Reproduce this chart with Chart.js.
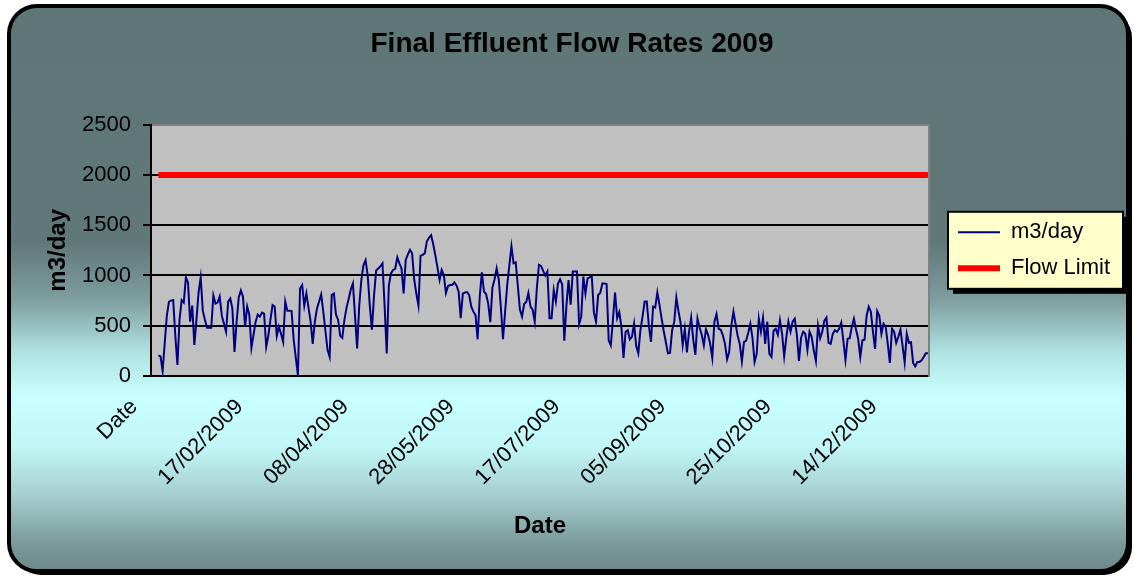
<!DOCTYPE html>
<html><head><meta charset="utf-8">
<script src="https://cdn.jsdelivr.net/npm/chart.js@4.4.1/dist/chart.umd.min.js"></script>
<style>html,body{margin:0;padding:0;background:#fff;}canvas{display:block;}</style>
</head><body>
<canvas id="c" width="1134" height="578"></canvas>
<script>
const chartTitle = "Final Effluent Flow Rates 2009";
const yAxisTitle = "m3/day";
const xAxisTitle = "Date";
const seriesNames = ["m3/day", "Flow Limit"];
const yMin = 0, yMax = 2500, yStep = 500;
const flowLimitValue = 2000;
const flowLimitDates = ["01/01/2009", "31/12/2009"];
const tickEvery = 50;

const headerCategories = ["Date","30/12/2008","31/12/2008"];
const janDates = ["01/01/2009","02/01/2009","03/01/2009","04/01/2009","05/01/2009","06/01/2009","07/01/2009","08/01/2009","09/01/2009","10/01/2009","11/01/2009","12/01/2009","13/01/2009","14/01/2009","15/01/2009","16/01/2009","17/01/2009","18/01/2009","19/01/2009","20/01/2009","21/01/2009","22/01/2009","23/01/2009","24/01/2009","25/01/2009","26/01/2009","27/01/2009","28/01/2009","29/01/2009","30/01/2009","31/01/2009"];
const febDates = ["01/02/2009","02/02/2009","03/02/2009","04/02/2009","05/02/2009","06/02/2009","07/02/2009","08/02/2009","09/02/2009","10/02/2009","11/02/2009","12/02/2009","13/02/2009","14/02/2009","15/02/2009","16/02/2009","17/02/2009","18/02/2009","19/02/2009","20/02/2009","21/02/2009","22/02/2009","23/02/2009","24/02/2009","25/02/2009","26/02/2009","27/02/2009","28/02/2009"];
const marDates = ["01/03/2009","02/03/2009","03/03/2009","04/03/2009","05/03/2009","06/03/2009","07/03/2009","08/03/2009","09/03/2009","10/03/2009","11/03/2009","12/03/2009","13/03/2009","14/03/2009","15/03/2009","16/03/2009","17/03/2009","18/03/2009","19/03/2009","20/03/2009","21/03/2009","22/03/2009","23/03/2009","24/03/2009","25/03/2009","26/03/2009","27/03/2009","28/03/2009","29/03/2009","30/03/2009","31/03/2009"];
const aprDates = ["01/04/2009","02/04/2009","03/04/2009","04/04/2009","05/04/2009","06/04/2009","07/04/2009","08/04/2009","09/04/2009","10/04/2009","11/04/2009","12/04/2009","13/04/2009","14/04/2009","15/04/2009","16/04/2009","17/04/2009","18/04/2009","19/04/2009","20/04/2009","21/04/2009","22/04/2009","23/04/2009","24/04/2009","25/04/2009","26/04/2009","27/04/2009","28/04/2009","29/04/2009","30/04/2009"];
const mayDates = ["01/05/2009","02/05/2009","03/05/2009","04/05/2009","05/05/2009","06/05/2009","07/05/2009","08/05/2009","09/05/2009","10/05/2009","11/05/2009","12/05/2009","13/05/2009","14/05/2009","15/05/2009","16/05/2009","17/05/2009","18/05/2009","19/05/2009","20/05/2009","21/05/2009","22/05/2009","23/05/2009","24/05/2009","25/05/2009","26/05/2009","27/05/2009","28/05/2009","29/05/2009","30/05/2009","31/05/2009"];
const junDates = ["01/06/2009","02/06/2009","03/06/2009","04/06/2009","05/06/2009","06/06/2009","07/06/2009","08/06/2009","09/06/2009","10/06/2009","11/06/2009","12/06/2009","13/06/2009","14/06/2009","15/06/2009","16/06/2009","17/06/2009","18/06/2009","19/06/2009","20/06/2009","21/06/2009","22/06/2009","23/06/2009","24/06/2009","25/06/2009","26/06/2009","27/06/2009","28/06/2009","29/06/2009","30/06/2009"];
const julDates = ["01/07/2009","02/07/2009","03/07/2009","04/07/2009","05/07/2009","06/07/2009","07/07/2009","08/07/2009","09/07/2009","10/07/2009","11/07/2009","12/07/2009","13/07/2009","14/07/2009","15/07/2009","16/07/2009","17/07/2009","18/07/2009","19/07/2009","20/07/2009","21/07/2009","22/07/2009","23/07/2009","24/07/2009","25/07/2009","26/07/2009","27/07/2009","28/07/2009","29/07/2009","30/07/2009","31/07/2009"];
const augDates = ["01/08/2009","02/08/2009","03/08/2009","04/08/2009","05/08/2009","06/08/2009","07/08/2009","08/08/2009","09/08/2009","10/08/2009","11/08/2009","12/08/2009","13/08/2009","14/08/2009","15/08/2009","16/08/2009","17/08/2009","18/08/2009","19/08/2009","20/08/2009","21/08/2009","22/08/2009","23/08/2009","24/08/2009","25/08/2009","26/08/2009","27/08/2009","28/08/2009","29/08/2009","30/08/2009","31/08/2009"];
const sepDates = ["01/09/2009","02/09/2009","03/09/2009","04/09/2009","05/09/2009","06/09/2009","07/09/2009","08/09/2009","09/09/2009","10/09/2009","11/09/2009","12/09/2009","13/09/2009","14/09/2009","15/09/2009","16/09/2009","17/09/2009","18/09/2009","19/09/2009","20/09/2009","21/09/2009","22/09/2009","23/09/2009","24/09/2009","25/09/2009","26/09/2009","27/09/2009","28/09/2009","29/09/2009","30/09/2009"];
const octDates = ["01/10/2009","02/10/2009","03/10/2009","04/10/2009","05/10/2009","06/10/2009","07/10/2009","08/10/2009","09/10/2009","10/10/2009","11/10/2009","12/10/2009","13/10/2009","14/10/2009","15/10/2009","16/10/2009","17/10/2009","18/10/2009","19/10/2009","20/10/2009","21/10/2009","22/10/2009","23/10/2009","24/10/2009","25/10/2009","26/10/2009","27/10/2009","28/10/2009","29/10/2009","30/10/2009","31/10/2009"];
const novDates = ["01/11/2009","02/11/2009","03/11/2009","04/11/2009","05/11/2009","06/11/2009","07/11/2009","08/11/2009","09/11/2009","10/11/2009","11/11/2009","12/11/2009","13/11/2009","14/11/2009","15/11/2009","16/11/2009","17/11/2009","18/11/2009","19/11/2009","20/11/2009","21/11/2009","22/11/2009","23/11/2009","24/11/2009","25/11/2009","26/11/2009","27/11/2009","28/11/2009","29/11/2009","30/11/2009"];
const decDates = ["01/12/2009","02/12/2009","03/12/2009","04/12/2009","05/12/2009","06/12/2009","07/12/2009","08/12/2009","09/12/2009","10/12/2009","11/12/2009","12/12/2009","13/12/2009","14/12/2009","15/12/2009","16/12/2009","17/12/2009","18/12/2009","19/12/2009","20/12/2009","21/12/2009","22/12/2009","23/12/2009","24/12/2009","25/12/2009","26/12/2009","27/12/2009","28/12/2009","29/12/2009","30/12/2009","31/12/2009"];

const headerValues = [null, null, null];
const janFlow = [205,195,50,330,600,740,750,755,400,110,560,755,730,980,930,540,700,310,560,830,980,650,560,480,480,480,800,720,730,790,600];
const febFlow = [520,440,740,770,670,240,540,780,850,790,490,690,610,280,410,540,610,590,630,620,290,400,560,705,690,400,490,420];
const marFlow = [340,740,650,650,645,360,180,5,870,905,700,820,680,540,320,540,670,740,810,640,450,260,190,805,820,610,560,400,380,560,680];
const aprFlow = [765,860,920,600,275,700,955,1100,1150,1000,700,460,800,1050,1070,1090,1120,700,225,900,1020,1055,1065,1180,1120,1070,820,1155,1210,1255];
const mayFlow = [1220,960,820,700,1195,1205,1220,1340,1375,1400,1310,1200,1080,955,1055,1005,825,895,905,905,930,900,840,575,820,830,835,805,690,640,605];
const junFlow = [365,790,1030,840,815,720,535,880,960,1070,960,680,365,640,905,1100,1290,1120,1130,900,660,590,715,735,825,690,660,540,870,1105];
const julFlow = [1095,1045,1000,1040,575,575,855,740,920,960,910,350,700,955,710,1040,1040,1040,515,590,990,820,970,980,990,630,540,805,825,920,920];
const augFlow = [915,355,305,560,830,575,635,490,180,440,455,365,390,520,300,225,455,590,740,740,500,340,690,680,830,710,575,450,340,225,230];
const sepFlow = [455,540,780,645,530,305,465,235,440,580,360,210,570,480,410,305,465,410,320,180,540,615,470,460,405,320,165,240,500,640];
const octFlow = [520,400,320,145,340,350,430,520,380,140,220,570,440,580,320,540,220,190,450,470,410,555,420,195,380,540,440,540,570,410,150];
const novFlow = [380,440,420,260,440,390,255,150,500,375,440,550,580,330,320,420,455,440,470,530,350,160,370,375,490,570,460,370,190,355];
const decFlow = [360,600,690,640,440,270,645,600,420,520,490,320,130,470,440,330,390,460,300,135,420,330,335,130,95,140,140,155,190,225,225];

const categories = [].concat(headerCategories, janDates, febDates, marDates, aprDates, mayDates, junDates, julDates, augDates, sepDates, octDates, novDates, decDates);
const flowValues = [].concat(headerValues, janFlow, febFlow, marFlow, aprFlow, mayFlow, junFlow, julFlow, augFlow, sepFlow, octFlow, novFlow, decFlow);
const flowLimitPoints = flowLimitDates.map(d => ({x: d, y: flowLimitValue}));

const FONT = "'Liberation Sans', Arial, Helvetica, sans-serif";

function roundRectPath(ctx, x, y, w, h, r) {
  ctx.beginPath();
  ctx.moveTo(x + r, y);
  ctx.lineTo(x + w - r, y);
  ctx.arcTo(x + w, y, x + w, y + r, r);
  ctx.lineTo(x + w, y + h - r);
  ctx.arcTo(x + w, y + h, x + w - r, y + h, r);
  ctx.lineTo(x + r, y + h);
  ctx.arcTo(x, y + h, x, y + h - r, r);
  ctx.lineTo(x, y + r);
  ctx.arcTo(x, y, x + r, y, r);
  ctx.closePath();
}

const framePlugin = {
  id: 'frame',
  beforeDraw(chart) {
    const ctx = chart.ctx;
    const W = chart.width, H = chart.height;
    ctx.save();
    ctx.fillStyle = '#ffffff';
    ctx.fillRect(0, 0, W, H);
    // shadow
    roundRectPath(ctx, 13, 10, 1119, 565, 28);
    ctx.fillStyle = '#000000';
    ctx.fill();
    // gradient body
    const g = ctx.createLinearGradient(0, 6, 0, 571);
    g.addColorStop(0, '#5e7676');
    g.addColorStop(0.42, '#607878');
    g.addColorStop(0.52, '#7f9e9e');
    g.addColorStop(0.61, '#aee0e0');
    g.addColorStop(0.69, '#c8ffff');
    g.addColorStop(0.78, '#c2f6f6');
    g.addColorStop(0.87, '#a4cccc');
    g.addColorStop(0.95, '#7c9a9a');
    g.addColorStop(1, '#6c8888');
    roundRectPath(ctx, 9, 6, 1119, 565, 28);
    ctx.fillStyle = g;
    ctx.fill();
    ctx.lineWidth = 4;
    ctx.strokeStyle = '#000000';
    ctx.stroke();
    // plot area
    const a = chart.chartArea;
    ctx.fillStyle = '#c0c0c0';
    ctx.fillRect(a.left, a.top, a.right - a.left, a.bottom - a.top);
    // legend box
    const L = chart.legend;
    if (L) {
      const cy = (L.top + L.bottom) / 2;
      const bx = L.left + 4, by = cy - 38.5, bw = L.right + 3 - bx, bh = 77;
      ctx.fillStyle = '#000000';
      ctx.fillRect(bx + 5, by + 5, bw, bh);
      ctx.fillStyle = '#ffffcc';
      ctx.fillRect(bx, by, bw, bh);
      ctx.lineWidth = 2;
      ctx.strokeStyle = '#000000';
      ctx.strokeRect(bx, by, bw, bh);
    }
    ctx.restore();
  }
};

new Chart(document.getElementById('c'), {
  type: 'line',
  data: {
    labels: categories,
    datasets: [
      {
        label: seriesNames[0],
        data: flowValues,
        borderColor: '#000080',
        backgroundColor: '#000080',
        borderWidth: 2,
        pointRadius: 0,
        tension: 0,
        fill: false,
        yAxisID: 'y'
      },
      {
        label: seriesNames[1],
        data: flowLimitPoints,
        borderColor: '#ff0000',
        backgroundColor: '#ff0000',
        borderWidth: 6,
        pointRadius: 0,
        tension: 0,
        fill: false,
        yAxisID: 'y'
      }
    ]
  },
  options: {
    responsive: false,
    animation: false,
    devicePixelRatio: 1,
    layout: { padding: { left: 24, right: 14, top: 0, bottom: 20 } },
    plugins: {
      title: {
        display: true, text: chartTitle, color: '#000',
        font: { family: FONT, size: 28, weight: 'bold' },
        padding: { top: 27, bottom: 64 }
      },
      legend: {
        position: 'right', fullSize: false,
        labels: {
          usePointStyle: true, pointStyle: 'line', pointStyleWidth: 42,
          padding: 14, color: '#000', font: { family: FONT, size: 22 }
        }
      },
      tooltip: { enabled: false }
    },
    scales: {
      x: {
        type: 'category', offset: true,
        grid: { display: false, drawTicks: false },
        border: { display: true, color: '#000', width: 2 },
        ticks: {
          autoSkip: false, maxRotation: 45, minRotation: 45,
          padding: 18, labelOffset: -18, color: '#000',
          font: { family: FONT, size: 22 },
          callback(v, i) { return i % tickEvery === 0 ? this.getLabelForValue(v) : null; }
        },
        title: {
          display: true, text: xAxisTitle, color: '#000',
          font: { family: FONT, size: 24, weight: 'bold' },
          padding: { top: 0, bottom: 17 }
        },
        afterFit(s) { s.height = 182; }
      },
      y: {
        min: yMin, max: yMax,
        ticks: { stepSize: yStep, padding: 12, color: '#000', font: { family: FONT, size: 22 }, callback: v => String(v) },
        grid: {
          color: c => (c.tick && c.tick.value === yMax) ? '#808080' : '#000000',
          lineWidth: 2, tickLength: 8, tickColor: '#000000', tickWidth: 2
        },
        border: { display: true, color: '#000', width: 2 },
        title: {
          display: true, text: yAxisTitle, color: '#000',
          font: { family: FONT, size: 24, weight: 'bold' },
          padding: { top: 20, bottom: 0 }
        },
        afterFit(s) { s.width = 127; }
      },
      y2: {
        position: 'right', display: true,
        grid: { display: false, drawTicks: false },
        ticks: { display: false },
        border: { display: true, color: '#808080', width: 2 },
        afterFit(s) { s.width = 15; }
      }
    }
  },
  plugins: [framePlugin]
});
</script>
</body></html>
